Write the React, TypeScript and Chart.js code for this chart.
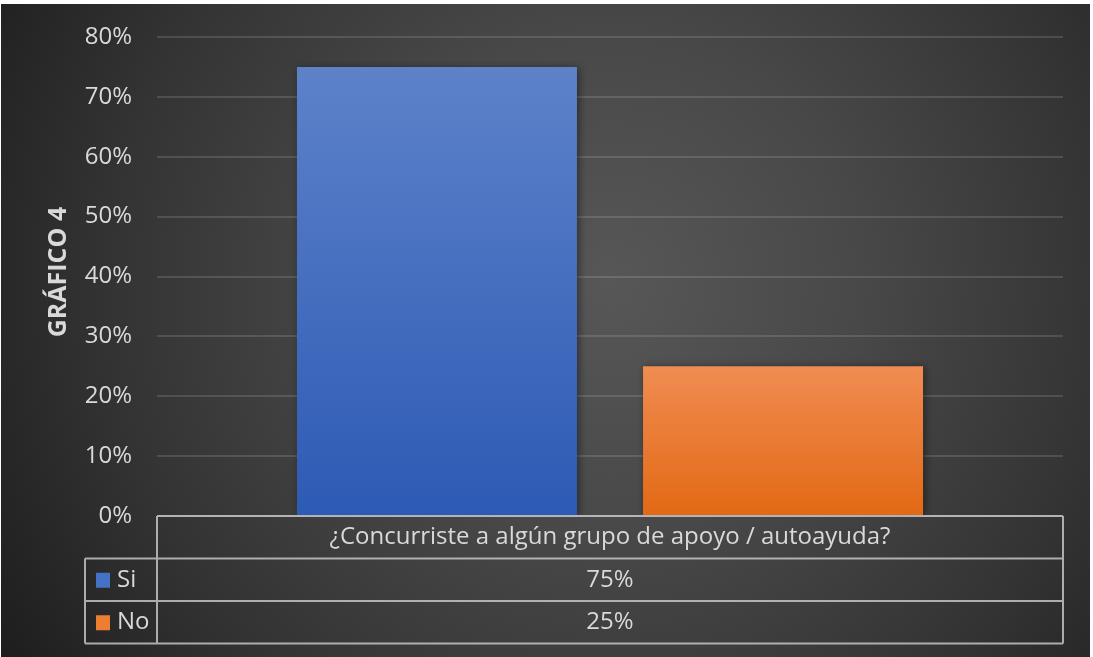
import React, { useEffect, useRef } from "react";
import { Chart, registerables } from "chart.js";

Chart.register(...registerables);

const categories = ["¿Concurriste a algún grupo de apoyo / autoayuda?"];
const seriesNames = ["Si", "No"];
const siValues = [75];
const noValues = [25];
const yMax = 80;
const yStep = 10;
const axisTitle = "GRÁFICO 4";

const FONT = "'Open Sans', 'Noto Sans', 'DejaVu Sans', sans-serif";
const TEXT = "#d9d9d9";

const gradStops: Record<string, [string, string]> = {
  Si: ["#5d82ca", "#2d5ab4"],
  No: ["#f08c52", "#e26914"],
};
const solid: Record<string, string> = { Si: "#4472c4", No: "#ed7d31" };

const backgroundPlugin = {
  id: "bgRadial",
  beforeDraw(chart: any) {
    const { ctx, width, height } = chart;
    ctx.save();
    const cx = 610, cy = 280;
    const g = ctx.createRadialGradient(cx, cy, 0, cx, cy, 720);
    g.addColorStop(0, "#575757");
    g.addColorStop(0.35, "#484848");
    g.addColorStop(0.7, "#333333");
    g.addColorStop(1, "#1d1d1d");
    ctx.fillStyle = g;
    ctx.fillRect(0, 0, width, height);
    ctx.restore();
  },
};

const shadowPlugin = {
  id: "barShadow",
  beforeDatasetsDraw(chart: any) {
    const ctx = chart.ctx;
    ctx.save();
    ctx.shadowColor = "rgba(0,0,0,0.45)";
    ctx.shadowBlur = 8;
    ctx.shadowOffsetX = 2;
    ctx.shadowOffsetY = 1;
  },
  afterDatasetsDraw(chart: any) {
    chart.ctx.restore();
  },
};

const tablePlugin = {
  id: "dataTable",
  afterDraw(chart: any) {
    const { ctx, chartArea } = chart;
    const left = chartArea.left;
    const right = chartArea.right;
    const top = chartArea.bottom;
    const rowH = 42.5;
    const legLeft = left - 72;
    const cx = (left + right) / 2;
    ctx.save();
    ctx.save();
    ctx.translate(58, 268);
    ctx.rotate(-Math.PI / 2);
    ctx.fillStyle = TEXT;
    ctx.font = `bold 25px ${FONT}`;
    ctx.textAlign = "center";
    ctx.textBaseline = "middle";
    ctx.fillText(axisTitle, 0, 0);
    ctx.restore();

    ctx.strokeStyle = "rgba(205,205,205,0.8)";
    ctx.lineWidth = 2;
    ctx.beginPath();
    for (let i = 0; i <= 3; i++) {
      const y = top + i * rowH;
      ctx.moveTo(i === 0 ? left : legLeft, y);
      ctx.lineTo(right, y);
    }
    ctx.moveTo(left, top);
    ctx.lineTo(left, top + 3 * rowH);
    ctx.moveTo(right, top);
    ctx.lineTo(right, top + 3 * rowH);
    ctx.moveTo(legLeft, top + rowH);
    ctx.lineTo(legLeft, top + 3 * rowH);
    ctx.stroke();

    ctx.fillStyle = TEXT;
    ctx.font = `24px ${FONT}`;
    ctx.textAlign = "center";
    ctx.textBaseline = "middle";
    ctx.fillText(categories[0], cx, top + rowH / 2);
    const ds = chart.data.datasets;
    ds.forEach((d: any, i: number) => {
      const y = top + (i + 1.5) * rowH;
      ctx.textAlign = "center";
      ctx.fillStyle = TEXT;
      ctx.fillText(`${d.data[0]}%`, cx, y);
      ctx.fillStyle = solid[d.label];
      ctx.fillRect(legLeft + 11, y - 7, 14, 15);
      ctx.fillStyle = TEXT;
      ctx.textAlign = "left";
      ctx.fillText(d.label, legLeft + 32, y);
    });
    ctx.restore();
  },
};

function barGradient(name: string) {
  return (c: any) => {
    const chart = c.chart;
    const area = chart.chartArea;
    if (!area || c.raw == null) return solid[name];
    const yScale = chart.scales.y;
    const yTop = yScale.getPixelForValue(c.raw);
    const yBot = yScale.getPixelForValue(0);
    const g = chart.ctx.createLinearGradient(0, yTop, 0, yBot);
    g.addColorStop(0, gradStops[name][0]);
    g.addColorStop(1, gradStops[name][1]);
    return g;
  };
}

export default function App() {
  const ref = useRef<HTMLCanvasElement | null>(null);
  useEffect(() => {
    document.body.style.margin = "0";
    document.body.style.background = "#ffffff";
    const canvas = ref.current;
    if (!canvas) return;
    const chart = new Chart(canvas, {
      type: "bar",
      data: {
        labels: categories,
        datasets: [
          {
            label: seriesNames[0],
            data: siValues,
            backgroundColor: barGradient(seriesNames[0]),
            borderWidth: 0,
          },
          {
            label: seriesNames[1],
            data: noValues,
            backgroundColor: barGradient(seriesNames[1]),
            borderWidth: 0,
          },
        ],
      },
      options: {
        animation: false,
        responsive: true,
        maintainAspectRatio: false,
        layout: { padding: { top: 33, bottom: 141, right: 27, left: 0 } },
        datasets: {
          bar: { categoryPercentage: 0.764, barPercentage: 0.809 },
        },
        plugins: {
          legend: { display: false },
          tooltip: { enabled: false },
          title: { display: false },
        },
        scales: {
          x: { display: false },
          y: {
            min: 0,
            max: yMax,
            afterFit(scale: any) {
              scale.width = 156;
              scale.paddingTop = 0;
              scale.paddingBottom = 0;
            },
            ticks: {
              stepSize: yStep,
              padding: 25,
              color: TEXT,
              font: { family: FONT, size: 24 },
              callback: (v: any) => `${v}%`,
            },
            grid: {
              color: "rgba(255,255,255,0.13)",
              lineWidth: 2,
              drawTicks: false,
            },
            border: { display: false },
          },
        },
      },
      plugins: [backgroundPlugin, shadowPlugin, tablePlugin],
    });
    return () => chart.destroy();
  }, []);
  return (
    <div style={{ position: "relative", width: 1093, height: 657, background: "#ffffff" }}>
      <div style={{ position: "absolute", left: 1, top: 4, width: 1089, height: 653 }}>
        <canvas ref={ref} />
      </div>
    </div>
  );
}
